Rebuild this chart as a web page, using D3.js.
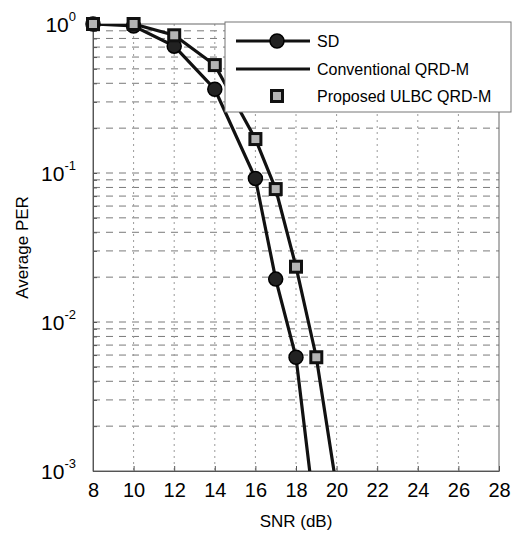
<!DOCTYPE html>
<html>
<head>
<meta charset="utf-8">
<script src="https://cdn.jsdelivr.net/npm/d3@7"></script>
<style>
  body { margin: 0; background: #fff; }
  svg { font-family: Arial, 'Liberation Sans', sans-serif; }
</style>
</head>
<body>
<svg width="521" height="535"></svg>
<script>
// values
const snrSD = [8, 10, 12, 14, 16, 17, 18, 19];
const perSD = [1.0, 0.97, 0.71, 0.365, 0.092, 0.0194, 0.0058, 0.00043];
const snrQRD = [8, 10, 12, 14, 16, 17, 18, 19, 20];
const perConv = [1.0, 1.0, 0.84, 0.53, 0.169, 0.078, 0.0235, 0.0058, 0.00077];
const perULBC = [1.0, 1.0, 0.84, 0.53, 0.169, 0.078, 0.0235, 0.0058, 0.00077];
const xTicks = [8, 10, 12, 14, 16, 18, 20, 22, 24, 26, 28];
const yTicks = [1, 0.1, 0.01, 0.001];
const legendNames = ['SD', 'Conventional QRD-M', 'Proposed ULBC QRD-M'];

function init() {
  // plot box inside the 521x535 window
  margin = { left: 93, top: 24 };
  inner_chart = { x: 406, y: 447 };

  x = d3.scaleLinear().domain([8, 28]).range([0, inner_chart.x]);
  y = d3.scaleLog().domain([0.001, 1]).range([inner_chart.y, 0]);

  svg = d3.select('svg');
  g = svg.append('g')
    .attr('transform', 'translate(' + margin.left + ',' + margin.top + ')');

  // grid lines: every minor decade value horizontally, every x tick vertically
  minor = [];
  for (let e = -3; e < 0; e++) {
    for (let m = 1; m < 10; m++) minor.push(m * Math.pow(10, e));
  }
  g.append('g').selectAll('line')
    .data(minor.filter(v => v > 0.001))
    .enter().append('line')
    .attr('x1', 0).attr('x2', inner_chart.x)
    .attr('y1', d => y(d)).attr('y2', d => y(d))
    .attr('stroke', '#7a7a7a').attr('stroke-width', 1)
    .attr('stroke-dasharray', '7,6');
  g.append('g').selectAll('line')
    .data(xTicks.slice(1, -1))
    .enter().append('line')
    .attr('x1', d => x(d)).attr('x2', d => x(d))
    .attr('y1', 0).attr('y2', inner_chart.y)
    .attr('stroke', '#9a9a9a').attr('stroke-width', 1)
    .attr('stroke-dasharray', '2,4');

  // box round the plot
  g.append('rect')
    .attr('width', inner_chart.x).attr('height', inner_chart.y)
    .attr('fill', 'none').attr('stroke', '#666').attr('stroke-width', 1);

  // x axis, ticks inside
  xAxis = g.append('g')
    .attr('transform', 'translate(0,' + inner_chart.y + ')')
    .call(d3.axisBottom(x).tickValues(xTicks).tickSizeInner(-5).tickSizeOuter(0).tickPadding(12));
  xAxis.select('.domain').attr('stroke', '#555');
  xAxis.selectAll('line').attr('stroke', '#555');
  xAxis.selectAll('text').style('font-size', '20px').attr('fill', '#000');

  // y axis: 10 with superscript exponent
  yAxis = g.append('g')
    .call(d3.axisLeft(y).tickValues(minor.concat([1])).tickSizeInner(-4).tickSizeOuter(0).tickFormat(''));
  yAxis.select('.domain').attr('stroke', '#555');
  yAxis.selectAll('line').attr('stroke', '#555');
  yLab = g.append('g').selectAll('text')
    .data(yTicks)
    .enter().append('text')
    .attr('x', -17)
    .attr('y', d => y(d) + 8)
    .attr('text-anchor', 'end')
    .style('font-size', '21px');
  yLab.append('tspan').text('10');
  yLab.append('tspan')
    .attr('dy', -11)
    .style('font-size', '13px')
    .text(d => Math.round(Math.log10(d)));

  // clip lines to the plot box
  svg.append('clipPath').attr('id', 'clip')
    .append('rect').attr('width', inner_chart.x).attr('height', inner_chart.y);
  curves = g.append('g').attr('clip-path', 'url(#clip)');

  line = d3.line().x(d => x(d[0])).y(d => y(d[1]));
  sd = snrSD.map((s, i) => [s, perSD[i]]);
  conv = snrQRD.map((s, i) => [s, perConv[i]]);
  ulbc = snrQRD.map((s, i) => [s, perULBC[i]]);

  curves.append('path').datum(sd).attr('d', line)
    .attr('fill', 'none').attr('stroke', '#111').attr('stroke-width', 3.2);
  curves.append('path').datum(conv).attr('d', line)
    .attr('fill', 'none').attr('stroke', '#111').attr('stroke-width', 3.2);

  // markers only where they fall inside the y range
  marks = g.append('g');
  marks.selectAll('circle').data(sd.filter(d => d[1] >= 0.001)).enter().append('circle')
    .attr('cx', d => x(d[0])).attr('cy', d => y(d[1])).attr('r', 7)
    .attr('fill', '#222').attr('stroke', '#000').attr('stroke-width', 1.5);
  marks.selectAll('rect.sq').data(ulbc.filter(d => d[1] >= 0.001)).enter().append('rect')
    .attr('class', 'sq')
    .attr('x', d => x(d[0]) - 5.5).attr('y', d => y(d[1]) - 5.5)
    .attr('width', 11).attr('height', 11)
    .attr('fill', '#b5b5b5').attr('stroke', '#111').attr('stroke-width', 3);

  // legend
  leg = svg.append('g').attr('transform', 'translate(225,22)');
  leg.append('rect').attr('width', 286).attr('height', 90)
    .attr('fill', '#fff').attr('stroke', '#777').attr('stroke-width', 1);
  rows = [19, 47, 74];
  leg.append('line').attr('x1', 11).attr('x2', 85).attr('y1', rows[0]).attr('y2', rows[0])
    .attr('stroke', '#111').attr('stroke-width', 3.2);
  leg.append('circle').attr('cx', 52).attr('cy', rows[0]).attr('r', 7)
    .attr('fill', '#222').attr('stroke', '#000').attr('stroke-width', 1.5);
  leg.append('line').attr('x1', 11).attr('x2', 85).attr('y1', rows[1]).attr('y2', rows[1])
    .attr('stroke', '#111').attr('stroke-width', 3.2);
  leg.append('rect').attr('x', 46.5).attr('y', rows[2] - 5.5).attr('width', 11).attr('height', 11)
    .attr('fill', '#b5b5b5').attr('stroke', '#111').attr('stroke-width', 3);
  leg.selectAll('text.name').data(legendNames).enter().append('text')
    .attr('class', 'name')
    .attr('x', 92).attr('y', (d, i) => rows[i] + 6)
    .style('font-size', '16px')
    .text(d => d);

  // axis labels
  svg.append('text')
    .attr('text-anchor', 'middle')
    .attr('x', margin.left + inner_chart.x / 2)
    .attr('y', 527)
    .style('font-size', '17px')
    .text('SNR (dB)');
  svg.append('text')
    .attr('text-anchor', 'middle')
    .attr('transform', 'translate(28,' + (margin.top + inner_chart.y / 2) + ') rotate(-90)')
    .style('font-size', '17px')
    .text('Average PER');
}
init();
</script>
</body>
</html>
